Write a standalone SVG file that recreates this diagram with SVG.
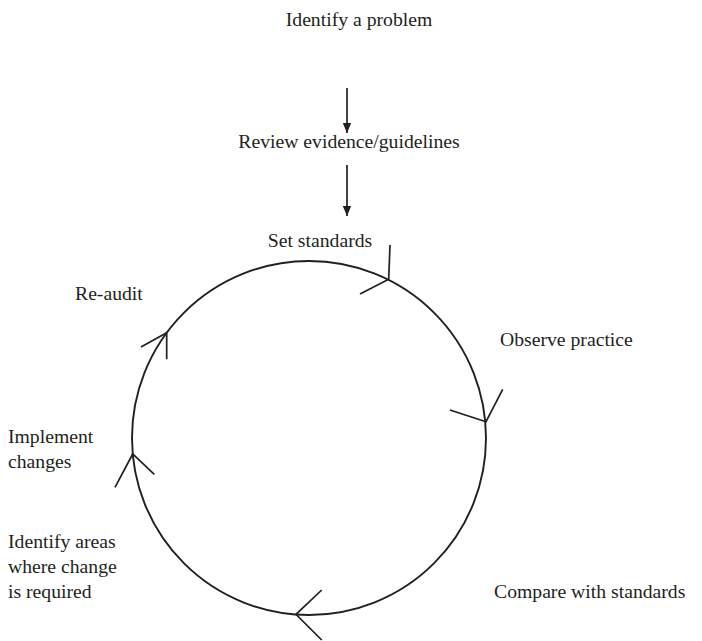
<svg xmlns="http://www.w3.org/2000/svg" width="702" height="641" viewBox="0 0 702 641">
<style>
text{font-family:"Liberation Serif","Times New Roman",serif;font-size:19.7px;fill:#231f20}
.c{text-anchor:middle}
.ln{stroke:#231f20;stroke-width:1.7;fill:none}
.cw{stroke:#231f20;stroke-width:1.9;fill:none}
</style>
<defs>
<marker id="ah" viewBox="0 0 10 10" refX="10" refY="5" markerWidth="10" markerHeight="10" markerUnits="userSpaceOnUse" orient="auto"><path d="M0,0.8 L10,5 L0,9.2 Z" fill="#231f20"/></marker>
</defs>
<rect width="702" height="641" fill="#fff"/>
<g id="connectors">
<line class="ln" x1="347" y1="88" x2="347" y2="133" marker-end="url(#ah)"/>
<line class="ln" x1="347" y1="165" x2="347" y2="216" marker-end="url(#ah)"/>
<circle class="cw" cx="309" cy="438" r="177"/>
<polyline class="ln" points="390,245 388.7,279.3 360,294"/>
<polyline class="ln" points="502.7,389.3 486,421.7 450,410"/>
<polyline class="ln" points="321.7,590 296,614.3 321.7,640"/>
<polyline class="ln" points="115,487.3 132.7,454 154.3,474.3"/>
<polyline class="ln" points="166.7,359.3 166.7,332.7 141,347"/>
</g>
<g id="n1"><text class="c" x="359" y="26">Identify a problem</text></g>
<g id="n2"><text class="c" x="349" y="148">Review evidence/guidelines</text></g>
<g id="n3"><text class="c" x="320" y="247">Set standards</text></g>
<g id="n4"><text x="500" y="346">Observe practice</text></g>
<g id="n5"><text x="494" y="598">Compare with standards</text></g>
<g id="n6"><text x="8" y="548">Identify areas</text><text x="8" y="573">where change</text><text x="8" y="598">is required</text></g>
<g id="n7"><text x="8" y="443">Implement</text><text x="8" y="468">changes</text></g>
<g id="n8"><text x="75" y="300">Re-audit</text></g>
</svg>
